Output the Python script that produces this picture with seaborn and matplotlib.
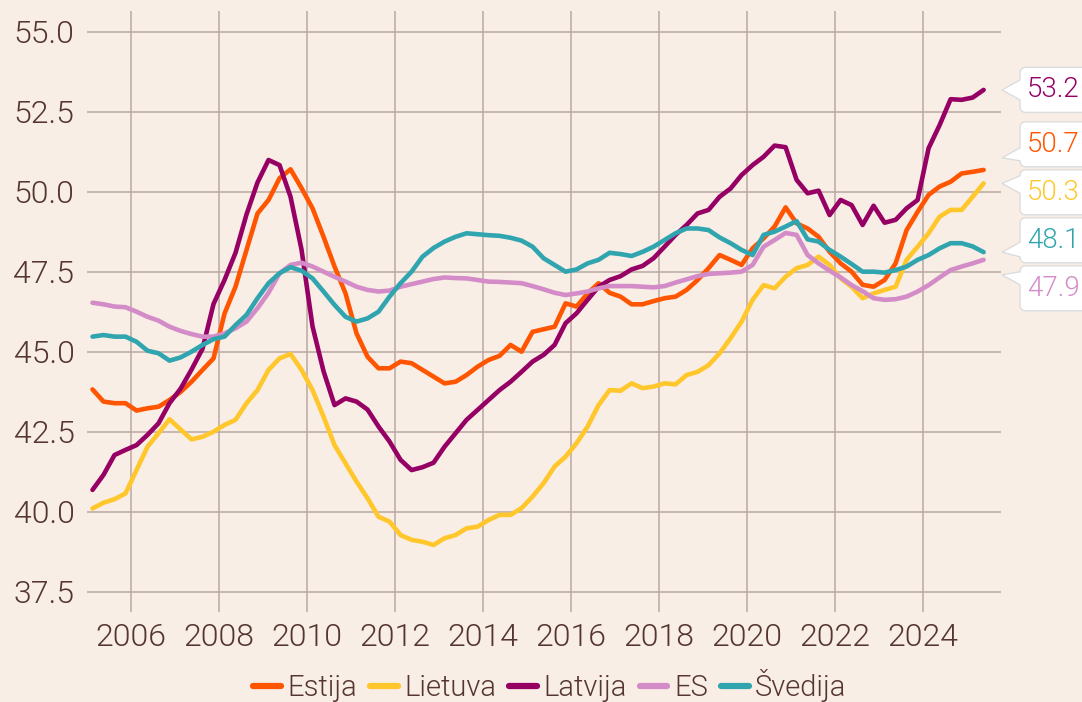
import numpy as np
import pandas as pd
import matplotlib
matplotlib.use("Agg")
import matplotlib.pyplot as plt
from matplotlib.path import Path
from matplotlib.patches import PathPatch
from matplotlib.transforms import IdentityTransform
import seaborn as sns

# quarterly values, 2005Q1 .. 2025Q2
quarters = pd.period_range("2005Q1", "2025Q2", freq="Q")

estija = [43.83, 43.45, 43.40, 43.40, 43.17, 43.24, 43.29, 43.50, 43.75, 44.07,
          44.44, 44.80, 46.20, 47.04, 48.19, 49.33, 49.75, 50.43, 50.71, 50.12,
          49.49, 48.60, 47.67, 46.83, 45.58, 44.85, 44.49, 44.49, 44.70, 44.65,
          44.44, 44.23, 44.02, 44.07, 44.28, 44.54, 44.75, 44.88, 45.22, 45.01,
          45.63, 45.71, 45.79, 46.52, 46.42, 46.83, 47.15, 46.85, 46.73, 46.49,
          46.49, 46.59, 46.68, 46.73, 46.94, 47.25, 47.62, 48.03, 47.88, 47.72,
          48.24, 48.55, 48.92, 49.52, 49.02, 48.86, 48.60, 48.13, 47.77, 47.51,
          47.10, 47.04, 47.25, 47.77, 48.81, 49.38, 49.91, 50.17, 50.32, 50.58,
          50.63, 50.69]

lietuva = [40.11, 40.29, 40.40, 40.58, 41.31, 42.04, 42.46, 42.90, 42.58, 42.27,
           42.35, 42.51, 42.72, 42.88, 43.40, 43.81, 44.44, 44.80, 44.94, 44.44,
           43.81, 42.98, 42.09, 41.52, 40.95, 40.43, 39.85, 39.70, 39.28, 39.13,
           39.07, 38.97, 39.18, 39.28, 39.49, 39.54, 39.75, 39.91, 39.91, 40.12,
           40.48, 40.90, 41.42, 41.73, 42.15, 42.67, 43.34, 43.81, 43.79, 44.02,
           43.87, 43.92, 44.02, 43.99, 44.28, 44.38, 44.59, 44.96, 45.43, 45.95,
           46.63, 47.09, 46.99, 47.35, 47.62, 47.72, 47.98, 47.72, 47.30, 47.04,
           46.68, 46.83, 46.94, 47.04, 47.88, 48.29, 48.71, 49.23, 49.44, 49.44,
           49.85, 50.27]

latvija = [40.69, 41.16, 41.78, 41.94, 42.09, 42.41, 42.77, 43.40, 43.85, 44.45,
           45.10, 46.50, 47.25, 48.10, 49.30, 50.30, 51.00, 50.84, 49.85, 48.20,
           45.80, 44.40, 43.34, 43.55, 43.45, 43.20, 42.67, 42.20, 41.63, 41.31,
           41.40, 41.54, 42.04, 42.46, 42.88, 43.19, 43.50, 43.81, 44.07, 44.38,
           44.70, 44.91, 45.22, 45.90, 46.21, 46.63, 47.04, 47.25, 47.37, 47.58,
           47.69, 47.93, 48.29, 48.66, 48.97, 49.33, 49.44, 49.85, 50.11, 50.53,
           50.84, 51.10, 51.45, 51.40, 50.38, 49.96, 50.04, 49.28, 49.75, 49.59,
           48.97, 49.57, 49.04, 49.13, 49.49, 49.75, 51.37, 52.09, 52.90, 52.88,
           52.95, 53.19]

es = [46.54, 46.49, 46.42, 46.40, 46.26, 46.10, 45.98, 45.79, 45.66, 45.56,
      45.48, 45.48, 45.58, 45.74, 45.95, 46.37, 46.85, 47.46, 47.72, 47.79,
      47.67, 47.51, 47.35, 47.20, 47.04, 46.94, 46.89, 46.92, 47.04, 47.12,
      47.20, 47.28, 47.33, 47.31, 47.30, 47.25, 47.20, 47.19, 47.17, 47.15,
      47.06, 46.96, 46.85, 46.78, 46.83, 46.89, 46.99, 47.06, 47.06, 47.06,
      47.04, 47.02, 47.06, 47.17, 47.27, 47.37, 47.44, 47.46, 47.48, 47.51,
      47.72, 48.29, 48.50, 48.72, 48.66, 48.03, 47.77, 47.54, 47.33, 47.09,
      46.90, 46.68, 46.63, 46.65, 46.73, 46.89, 47.09, 47.33, 47.56, 47.67,
      47.77, 47.88]

svedija = [45.48, 45.53, 45.48, 45.48, 45.32, 45.04, 44.96, 44.73, 44.83, 45.01,
           45.22, 45.40, 45.48, 45.84, 46.16, 46.68, 47.15, 47.46, 47.65, 47.54,
           47.30, 46.89, 46.47, 46.10, 45.95, 46.05, 46.26, 46.73, 47.15, 47.51,
           47.98, 48.25, 48.45, 48.60, 48.71, 48.68, 48.65, 48.63, 48.57, 48.48,
           48.29, 47.93, 47.72, 47.51, 47.58, 47.77, 47.88, 48.10, 48.06, 48.00,
           48.13, 48.29, 48.50, 48.71, 48.86, 48.86, 48.81, 48.58, 48.40, 48.19,
           48.03, 48.66, 48.76, 48.92, 49.09, 48.52, 48.45, 48.19, 47.98, 47.75,
           47.51, 47.51, 47.48, 47.56, 47.67, 47.88, 48.03, 48.24, 48.40, 48.40,
           48.30, 48.12]

names = ["Estija", "Lietuva", "Latvija", "ES", "Švedija"]
colors = {"Estija": "#ff5500", "Lietuva": "#ffc72c", "Latvija": "#960064",
          "ES": "#d48cc8", "Švedija": "#31a5af"}
xticks = [2006, 2008, 2010, 2012, 2014, 2016, 2018, 2020, 2022, 2024]
yticks = [37.5, 40.0, 42.5, 45.0, 47.5, 50.0, 52.5, 55.0]

BG = "#f8eee5"
TXT = "#553530"
GRID = "#baa8a2"

# long format, x = mid-quarter as decimal year
t = quarters.year + (quarters.quarter - 1) / 4 + 0.125
df = pd.concat([pd.DataFrame({"t": t, "value": v, "series": n})
                for n, v in zip(names, [estija, lietuva, latvija, es, svedija])])

sns.set_theme(style="white")
plt.rcParams["font.family"] = ["Roboto", "DejaVu Sans"]
plt.rcParams["font.weight"] = 300

fig = plt.figure(figsize=(10.82, 7.02), dpi=100, facecolor=BG)
ax = fig.add_axes([87 / 1082, 1 - 612 / 702, 914 / 1082, 601 / 702])
ax.set_facecolor(BG)

sns.lineplot(data=df, x="t", y="value", hue="series", hue_order=names,
             palette=colors, linewidth=3.3, ax=ax)

ax.set_xlim(2005.0, 2025.77)
ax.set_ylim(36.875, 55.656)
ax.set_xticks(xticks)
ax.set_yticks(yticks)
ax.set_yticklabels([f"{v:.1f}" for v in yticks])
ax.grid(True, color=GRID, linewidth=1.1)
ax.set_axisbelow(True)
for s in ax.spines.values():
    s.set_visible(False)
ax.tick_params(length=0, labelsize=23, labelcolor=TXT)
ax.tick_params(axis="y", pad=9)
ax.tick_params(axis="x", pad=8)
ax.set_xlabel("")
ax.set_ylabel("")

handles, labels = ax.get_legend_handles_labels()
ax.get_legend().remove()
leg = fig.legend(handles, labels, loc="center", bbox_to_anchor=(0.508, 0.023),
                 ncol=5, frameon=False, fontsize=21, handlelength=0.95,
                 handletextpad=0.22, columnspacing=0.45, labelcolor=TXT)
for h in leg.legend_handles:
    h.set_linewidth(4.5)

# callout labels on the right, dodged in pixel space
fig.canvas.draw()
last = {n: df[df.series == n]["value"].iloc[-1] for n in names}
order = sorted(names, key=lambda n: -last[n])
tips = [ax.transData.transform((2025.375, last[n]))[1] for n in order]
gap = 48.0
groups = [[i] for i in range(len(order))]
merged = True
while merged:
    merged = False
    pos = []
    for g in groups:
        c = np.mean([tips[i] for i in g])
        k = len(g)
        pos.append([c + gap * ((k - 1) / 2 - j) for j in range(k)])
    for a in range(len(groups) - 1):
        if pos[a][-1] - pos[a + 1][0] < gap:
            groups[a] = groups[a] + groups[a + 1]
            del groups[a + 1]
            merged = True
            break
centers = [p for ps in pos for p in ps]

x0, x1, tipx, r, hh = 1020, 1100, 1002, 6, 22.5
for n, cy, ty in zip(order, centers, tips):
    y0, y1 = cy - hh, cy + hh
    ty = min(max(ty, y0 + 9), y1 - 9)
    b0 = max(ty - 10, y0 + r)
    b1 = min(ty + 10, y1 - r)
    verts = [(x0 + r, y1), (x1, y1), (x1, y0), (x0 + r, y0), (x0, y0), (x0, y0 + r),
             (x0, b0), (tipx, ty), (x0, b1), (x0, y1 - r), (x0, y1), (x0 + r, y1),
             (x0 + r, y1)]
    codes = [Path.MOVETO, Path.LINETO, Path.LINETO, Path.LINETO, Path.CURVE3,
             Path.CURVE3, Path.LINETO, Path.LINETO, Path.LINETO, Path.LINETO,
             Path.CURVE3, Path.CURVE3, Path.CLOSEPOLY]
    fig.add_artist(PathPatch(Path(verts, codes), facecolor="white",
                             edgecolor="#dcdcdc", linewidth=1.0,
                             transform=IdentityTransform()))
    fig.text(1027 / 1082, cy / 702, f"{last[n]:.1f}", color=colors[n],
             fontsize=20, ha="left", va="center")

fig.savefig("out.png", dpi=100, facecolor=BG)
